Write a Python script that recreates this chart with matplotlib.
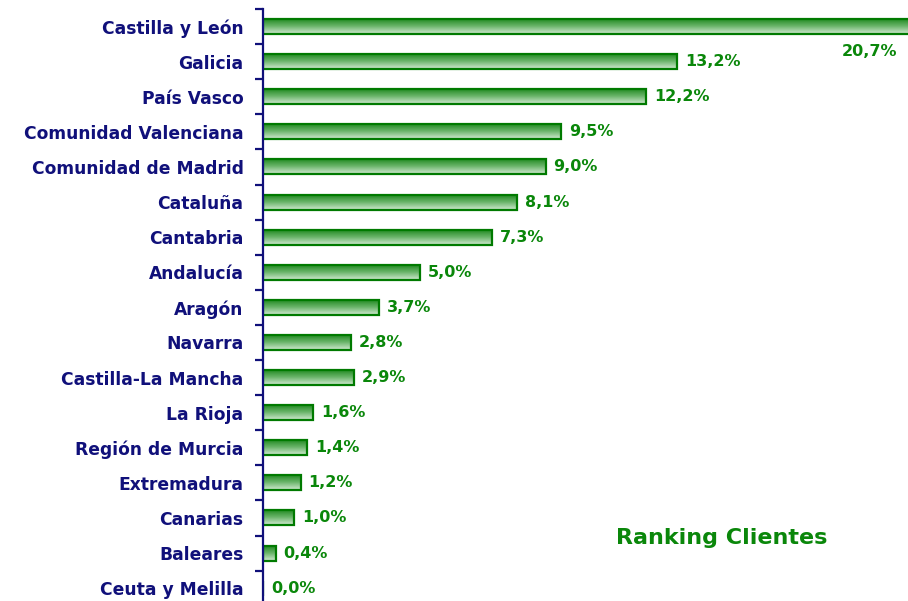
import numpy as np
import matplotlib
matplotlib.use("Agg")
import matplotlib.pyplot as plt
from matplotlib.colors import LinearSegmentedColormap

# datos
regiones = ["Castilla y León", "Galicia", "País Vasco", "Comunidad Valenciana",
            "Comunidad de Madrid", "Cataluña", "Cantabria", "Andalucía", "Aragón",
            "Navarra", "Castilla-La Mancha", "La Rioja", "Región de Murcia",
            "Extremadura", "Canarias", "Baleares", "Ceuta y Melilla"]
valores = [20.7, 13.2, 12.2, 9.5, 9.0, 8.1, 7.3, 5.0, 3.7,
           2.8, 2.9, 1.6, 1.4, 1.2, 1.0, 0.4, 0.0]
etiquetas = ["20,7%", "13,2%", "12,2%", "9,5%", "9,0%", "8,1%", "7,3%", "5,0%", "3,7%",
             "2,8%", "2,9%", "1,6%", "1,4%", "1,2%", "1,0%", "0,4%", "0,0%"]
titulo = "Ranking Clientes"

NAVY = "#10107a"
GREEN = "#0a870a"

W, H = 908, 601
fig = plt.figure(figsize=(W / 100, H / 100), dpi=100)
fig.patch.set_facecolor("white")

# ejes: la parte inferior queda un poco fuera de la figura
paso = 35.1
top_px = 9
bot_px = top_px + paso * len(regiones)
ax = fig.add_axes([263 / W, 1 - bot_px / H, 1 - 263 / W, (bot_px - top_px) / H])
ax.patch.set_alpha(0)

y = np.arange(len(regiones))
barras = ax.barh(y, valores, height=0.43, facecolor="none", edgecolor="#007a00",
                 linewidth=1.6, zorder=3)

# relleno degradado dentro de cada barra
cmap = LinearSegmentedColormap.from_list("verde", ["#1a861a", "#6ab46a", "#d2ead2"])
grad = np.linspace(0, 1, 64).reshape(-1, 1)
for b in barras:
    if b.get_width() <= 0:
        continue
    x0, y0 = b.get_x(), b.get_y()
    im = ax.imshow(grad, cmap=cmap, aspect="auto", zorder=2,
                   extent=[x0, x0 + b.get_width(), y0 + b.get_height(), y0])
    im.set_clip_path(b)

ax.set_xlim(0, (W - 263) / 31.4)
ax.set_ylim(len(regiones) - 0.5, -0.5)

for i, (v, t) in enumerate(zip(valores, etiquetas)):
    if i == 0:
        ax.text(20.2, i + 0.72, t, color=GREEN, fontsize=11.5, fontweight="bold",
                family="DejaVu Sans", ha="right", va="center")
    else:
        ax.text(v + 0.25, i, t, color=GREEN, fontsize=11.5, fontweight="bold",
                family="DejaVu Sans", ha="left", va="center")

ax.set_yticks(y)
ax.set_yticklabels(regiones, fontsize=12.3, fontweight="bold", color=NAVY,
                   family="DejaVu Sans")
ax.set_yticks(np.arange(len(regiones) + 1) - 0.5, minor=True)
ax.tick_params(axis="y", which="major", length=0, pad=14)
ax.tick_params(axis="y", which="minor", length=6, width=1.6, color=NAVY)
ax.set_xticks([])
for s in ["top", "right", "bottom"]:
    ax.spines[s].set_visible(False)
ax.spines["left"].set_color(NAVY)
ax.spines["left"].set_linewidth(1.6)
ax.spines["left"].set_zorder(4)

fig.text(722 / W, 1 - 538 / H, titulo, color=GREEN, fontsize=16, fontweight="bold",
         family="DejaVu Sans", ha="center", va="center")

fig.savefig("out.png", dpi=100)
